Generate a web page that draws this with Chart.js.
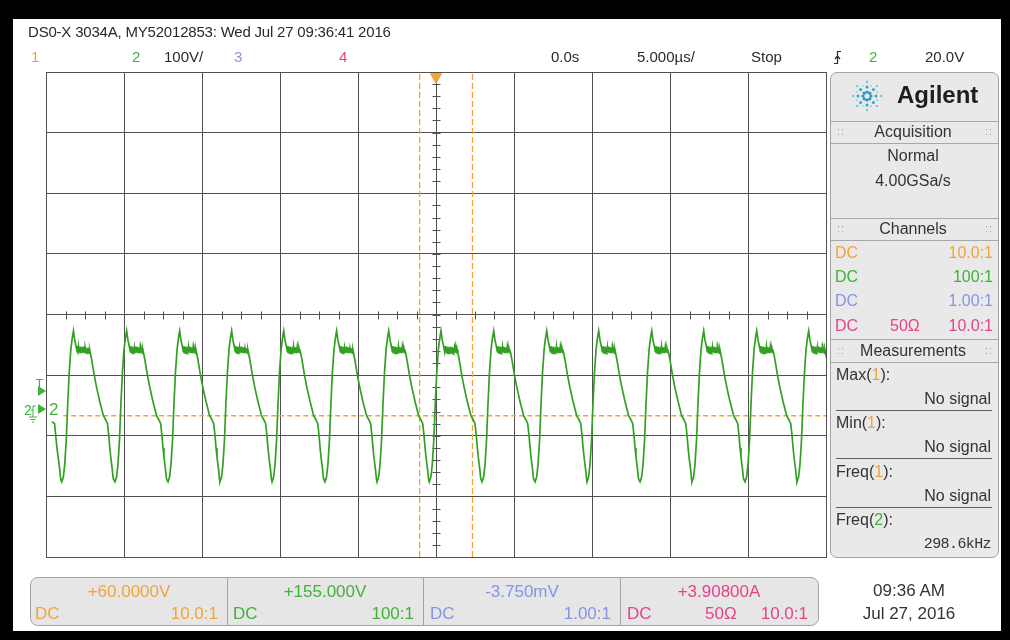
<!DOCTYPE html>
<html>
<head>
<meta charset="utf-8">
<script src="https://cdn.jsdelivr.net/npm/chart.js@4.4.0/dist/chart.umd.min.js"></script>
<style>
  html, body { margin: 0; padding: 0; background: #000; }
  body { width: 1010px; height: 640px; position: relative; overflow: hidden; font-family: 'Liberation Sans', Arial, sans-serif; color: #2a2a2a; }
  #screen { position: absolute; left: 13px; top: 19px; width: 988px; height: 612px; background: #fff; }
  #scope { position: absolute; left: 0; top: 0; z-index: 1; }
  #panel { position: absolute; left: 830px; top: 72px; width: 167px; height: 484px; background: #e9e9e9; border: 1px solid #a3a3a3; border-radius: 7px; z-index: 2; }
  #bar { position: absolute; left: 30px; top: 577px; width: 787px; height: 47px; background: #e6e6e6; border: 1px solid #a3a3a3; border-radius: 8px; z-index: 2; }
  .t { position: absolute; white-space: nowrap; z-index: 4; }
  .ln { position: absolute; z-index: 3; }
  #deco { position: absolute; left: 0; top: 0; z-index: 4; }
</style>
</head>
<body>
<div id="screen"></div>
<canvas id="scope" width="1010" height="640"></canvas>
<div id="panel"></div>
<div id="bar"></div>
<svg id="deco" width="1010" height="640"></svg>
<script>
// scope settings (from the screen header)
const timePerDiv = 5;        // us/div
const voltsPerDiv = 100;     // ch2 V/div
const offsetVolts = 155;     // ch2 offset
const hDivs = 10;
const vDivs = 8;

// channel 2 trace: one period, times in us after each minimum, volts
const shapeDt = [0, 0.10, 0.19, 0.29, 0.38, 0.48, 0.58, 0.67, 0.75, 0.83, 0.93,
  0.98, 1.01, 1.04, 1.07, 1.10, 1.13, 1.16, 1.19, 1.22, 1.25, 1.28, 1.31, 1.34,
  1.37, 1.40, 1.43, 1.46, 1.49, 1.52, 1.55, 1.58, 1.61, 1.64, 1.67, 1.70, 1.73,
  1.76, 1.79, 1.83,
  1.92, 2.08, 2.24, 2.44, 2.67, 2.82, 2.93, 3.01, 3.08, 3.14, 3.24, 3.30];
const shapeVolts = [-121, -113, -93, -52, 6, 60, 97, 116, 128, 113, 101,
  94, 103, 92, 102, 93, 101, 91, 102, 92, 100, 91, 101, 93,
  102, 92, 100, 91, 101, 93, 100, 91, 99, 92, 100, 93, 98,
  91, 97, 92,
  80, 55, 34, 11, -12, -19, -25, -44, -65, -80, -101, -116];
// time of each minimum across the screen (us)
const cycleMinTimes = [-23.99, -20.58, -17.18, -13.85, -10.51, -7.12, -3.78, -0.43,
  2.95, 6.35, 9.68, 13.08, 16.41, 19.81, 23.14];
// start of trace, before the first minimum
const leadInTimes = [-24.62, -24.45, -24.38, -24.30, -24.22, -24.12, -24.06];
const leadInVolts = [-22, -25, -44, -65, -80, -101, -116];

// markers
const ch1LevelVolts = -12;
const ch1LevelStart = -23.9;
const cursorTimes = [-1.05, 2.34];
const triggerTime = 0;

const cOrange = '#f2a33a', cGreen = '#3fb23a', cBlue = '#8793e4', cPink = '#e5438a';
const cTrace = '#33a024', cGrid = '#505050', cDark = '#2a2a2a';

const yMin = offsetVolts - voltsPerDiv * vDivs / 2;
const yMax = offsetVolts + voltsPerDiv * vDivs / 2;
const xMin = -timePerDiv * hDivs / 2;
const xMax = timePerDiv * hDivs / 2;

const trace = [];
leadInTimes.forEach((t, i) => trace.push({ x: t, y: leadInVolts[i] }));
cycleMinTimes.forEach(t0 => {
  shapeDt.forEach((dt, i) => trace.push({ x: t0 + dt, y: shapeVolts[i] }));
});

const centerTicks = {
  id: 'centerTicks',
  beforeDatasetsDraw(chart) {
    const { ctx, scales: { x, y } } = chart;
    const cx = Math.round(x.getPixelForValue(0)) + 0.5;
    const cy = Math.round(y.getPixelForValue(offsetVolts)) + 0.5;
    ctx.save();
    ctx.strokeStyle = cGrid;
    ctx.lineWidth = 1;
    ctx.beginPath();
    for (let t = xMin; t <= xMax + 0.001; t += timePerDiv / 4) {
      const px = Math.round(x.getPixelForValue(t)) + 0.5;
      ctx.moveTo(px, cy - 4); ctx.lineTo(px, cy + 4);
    }
    for (let v = yMin; v <= yMax + 0.001; v += voltsPerDiv / 5) {
      const py = Math.round(y.getPixelForValue(v)) + 0.5;
      ctx.moveTo(cx - 4, py); ctx.lineTo(cx + 4, py);
    }
    ctx.stroke();
    ctx.restore();
  }
};

new Chart(document.getElementById('scope'), {
  type: 'line',
  data: {
    datasets: [
      { data: trace, borderColor: cTrace, borderWidth: 1.7, pointRadius: 0, tension: 0, order: 1 },
      { data: [{ x: ch1LevelStart, y: ch1LevelVolts }, { x: xMax, y: ch1LevelVolts }],
        borderColor: cOrange, borderWidth: 1.3, borderDash: [5, 3], pointRadius: 0, order: 2 },
      { data: [{ x: cursorTimes[0], y: yMin }, { x: cursorTimes[0], y: yMax }],
        borderColor: cOrange, borderWidth: 1.3, borderDash: [6, 3], pointRadius: 0, order: 2 },
      { data: [{ x: cursorTimes[1], y: yMin }, { x: cursorTimes[1], y: yMax }],
        borderColor: cOrange, borderWidth: 1.3, borderDash: [6, 3], pointRadius: 0, order: 2 },
      { data: [{ x: triggerTime, y: yMax - 8 }], showLine: false, pointStyle: 'triangle', rotation: 180,
        pointRadius: 6.5, backgroundColor: cOrange, borderColor: cOrange, clip: false, order: 0 }
    ]
  },
  options: {
    responsive: false,
    animation: false,
    events: [],
    layout: { padding: { left: 46, top: 72, right: 1010 - 826, bottom: 640 - 557 } },
    plugins: { legend: { display: false }, tooltip: { enabled: false } },
    scales: {
      x: {
        type: 'linear', min: xMin, max: xMax,
        ticks: { display: false, stepSize: timePerDiv },
        grid: { color: cGrid, lineWidth: 1, drawTicks: false },
        border: { color: cGrid }
      },
      y: {
        type: 'linear', min: yMin, max: yMax,
        ticks: { display: false, stepSize: voltsPerDiv },
        grid: { color: cGrid, lineWidth: 1, drawTicks: false },
        border: { color: cGrid }
      }
    }
  },
  plugins: [centerTicks]
});

// ---- screen text ----
function put(html, x, cy, size, color, align, extra) {
  const d = document.createElement('div');
  d.className = 't';
  d.innerHTML = html;
  d.style.fontSize = size + 'px';
  d.style.lineHeight = (size * 1.2) + 'px';
  d.style.top = (cy - size * 0.6) + 'px';
  d.style.left = x + 'px';
  d.style.color = color || cDark;
  if (align === 'right') d.style.transform = 'translateX(-100%)';
  if (align === 'center') d.style.transform = 'translateX(-50%)';
  if (extra) Object.assign(d.style, extra);
  document.body.appendChild(d);
}
function line(x, y, w, h, color) {
  const d = document.createElement('div');
  d.className = 'ln';
  Object.assign(d.style, { left: x + 'px', top: y + 'px', width: w + 'px', height: h + 'px', background: color });
  document.body.appendChild(d);
}

// header
put('DS0-X 3034A, MY52012853: Wed Jul 27 09:36:41 2016', 28, 32, 15, cDark, null, { letterSpacing: '-0.2px' });
put('1', 31, 57, 15, cOrange);
put('2', 132, 57, 15, cGreen);
put('100V/', 164, 57, 15);
put('3', 234, 57, 15, cBlue);
put('4', 339, 57, 15, cPink);
put('0.0s', 551, 57, 15);
put('5.000µs/', 637, 57, 15);
put('Stop', 751, 57, 15);
put('2', 869, 57, 15, cGreen);
put('20.0V', 925, 57, 15);

// side panel
const grip = '<span style="letter-spacing:1px">::</span>';
[[121, 143], [218, 240], [339, 362]].forEach(r => {
  line(831, r[0], 167, 1, '#a8a8a8');
  line(831, r[1], 167, 1, '#a8a8a8');
  put(grip, 837, (r[0] + r[1]) / 2, 11, '#a5a5a5');
  put(grip, 985, (r[0] + r[1]) / 2, 11, '#a5a5a5');
});
put('Agilent', 897, 95, 24, '#1e1e1e', null, { fontWeight: 'bold' });
put('Acquisition', 913, 132, 16, '#333', 'center');
put('Normal', 913, 156, 16, '#333', 'center');
put('4.00GSa/s', 913, 181, 16, '#333', 'center');
put('Channels', 913, 229, 16, '#333', 'center');
put('DC', 835, 253, 16, cOrange); put('10.0:1', 993, 253, 16, cOrange, 'right');
put('DC', 835, 277, 16, cGreen); put('100:1', 993, 277, 16, cGreen, 'right');
put('DC', 835, 301, 16, cBlue); put('1.00:1', 993, 301, 16, cBlue, 'right');
put('DC', 835, 326, 16, cPink); put('50Ω', 890, 326, 16, cPink); put('10.0:1', 993, 326, 16, cPink, 'right');
put('Measurements', 913, 351, 16, '#333', 'center');
const meas = [
  ['Max(<span style="color:' + cOrange + '">1</span>):', 'No signal', 375],
  ['Min(<span style="color:' + cOrange + '">1</span>):', 'No signal', 423],
  ['Freq(<span style="color:' + cOrange + '">1</span>):', 'No signal', 472],
  ['Freq(<span style="color:' + cGreen + '">2</span>):', '298.6kHz', 520]
];
meas.forEach((m, i) => {
  put(m[0], 836, m[2], 16, '#333');
  if (i < 3) {
    put(m[1], 991, m[2] + 24, 16, '#333', 'right');
    line(836, m[2] + 35, 156, 1, '#606060');
  } else {
    put(m[1], 991, m[2] + 25, 15, '#333', 'right', { fontFamily: "'Liberation Mono', monospace", letterSpacing: '-0.6px' });
  }
});

// bottom bar
[227, 423, 620].forEach(x => line(x, 578, 1, 47, '#a3a3a3'));
put('+60.0000V', 129, 592, 17, cOrange, 'center');
put('DC', 35, 614, 17, cOrange); put('10.0:1', 218, 614, 17, cOrange, 'right');
put('+155.000V', 325, 592, 17, cGreen, 'center');
put('DC', 233, 614, 17, cGreen); put('100:1', 414, 614, 17, cGreen, 'right');
put('-3.750mV', 522, 592, 17, cBlue, 'center');
put('DC', 430, 614, 17, cBlue); put('1.00:1', 611, 614, 17, cBlue, 'right');
put('+3.90800A', 719, 592, 17, cPink, 'center');
put('DC', 627, 614, 17, cPink); put('50Ω', 705, 614, 17, cPink); put('10.0:1', 808, 614, 17, cPink, 'right');
put('09:36 AM', 909, 591, 17, '#333', 'center');
put('Jul 27, 2016', 909, 614, 17, '#333', 'center');

// left markers, trigger edge symbol, logo
const svg = document.getElementById('deco');
let s = '';
s += '<text x="39.5" y="388" font-size="13" fill="' + cGreen + '" text-anchor="middle" font-family="Liberation Sans">T</text>';
s += '<polygon points="38,386 46,391 38,396" fill="' + cGreen + '"/>';
s += '<text x="28" y="415" font-size="14" fill="' + cGreen + '" text-anchor="middle" font-family="Liberation Sans">2</text>';
s += '<path d="M31,410 h2 v-4 h3 M33,410 v7 M29,417 h8 M30.5,419.5 h5 M32,422 h2" stroke="' + cGreen + '" stroke-width="1" fill="none"/>';
s += '<polygon points="38,404 46,409 38,414" fill="' + cGreen + '"/>';
s += '<text x="49" y="415" font-size="17" fill="' + cGreen + '" font-family="Liberation Sans">2</text>';
s += '<path d="M834,63.5 h3.5 v-12 h3.5 M835,59 l2.5,-3 l2.5,3" stroke="' + cDark + '" stroke-width="1.2" fill="none"/>';
for (let k = 0; k < 8; k++) {
  const a = k * Math.PI / 4;
  [[4, 1.6, '#2b8fc9'], [9, 1.5, '#27afc3'], [14, 1.2, '#6fcbd6']].forEach(p => {
    s += '<circle cx="' + (867 + p[0] * Math.cos(a)).toFixed(1) + '" cy="' + (96 + p[0] * Math.sin(a)).toFixed(1) +
      '" r="' + p[1] + '" fill="' + p[2] + '"/>';
  });
  const b = a + Math.PI / 8;
  s += '<circle cx="' + (867 + 11 * Math.cos(b)).toFixed(1) + '" cy="' + (96 + 11 * Math.sin(b)).toFixed(1) + '" r="0.9" fill="#7fd0dc"/>';
}
svg.innerHTML = s;
</script>
</body>
</html>
